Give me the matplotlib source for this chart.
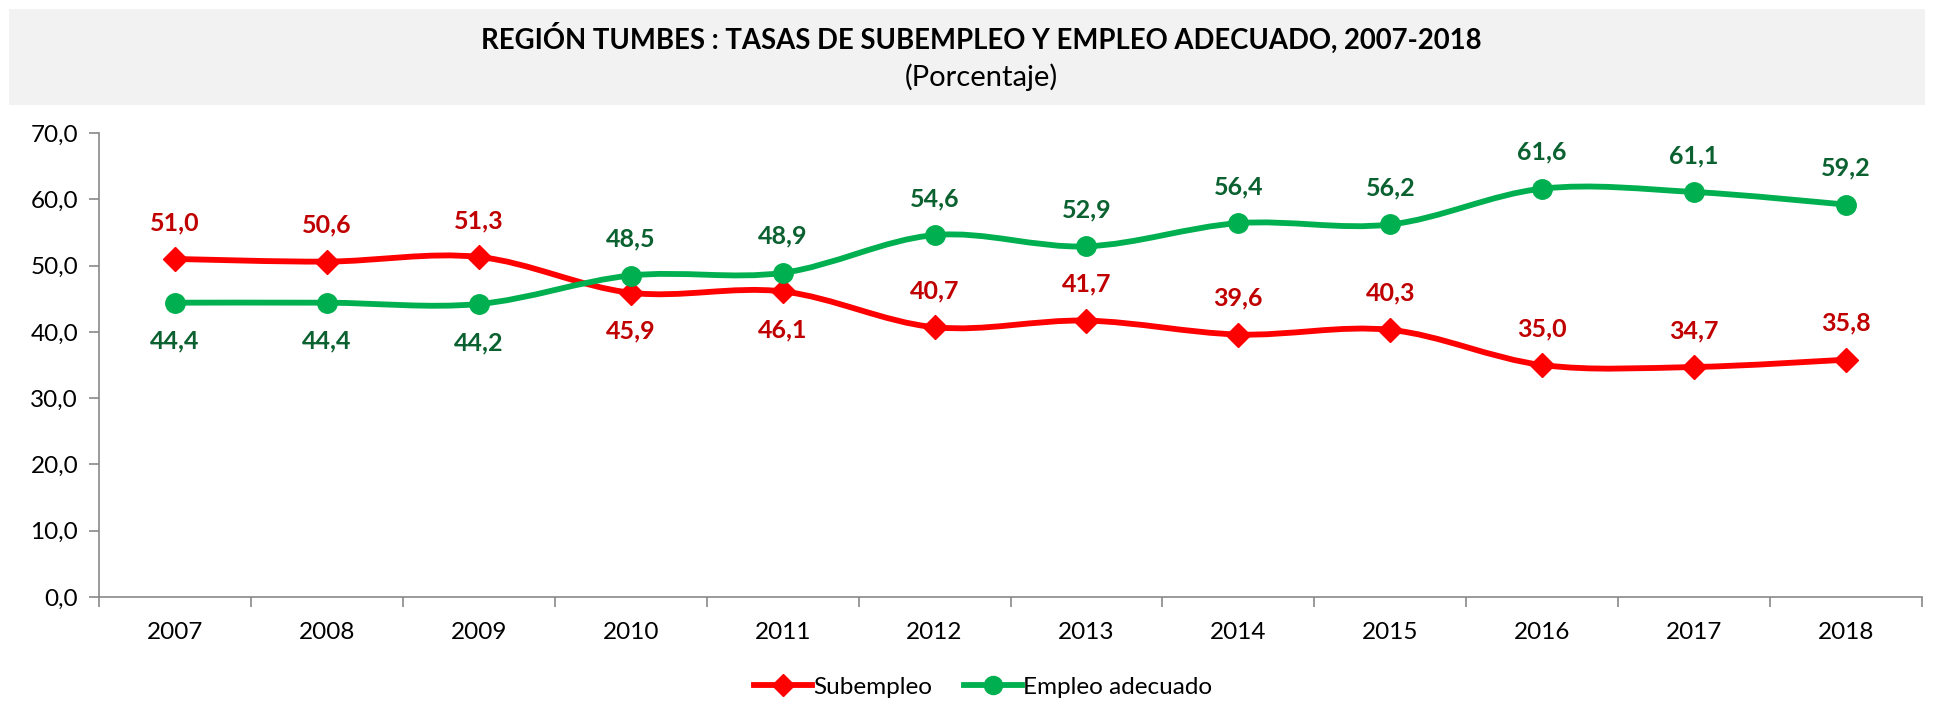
import numpy as np
import matplotlib
matplotlib.use("Agg")
import matplotlib.pyplot as plt
from matplotlib.path import Path
from matplotlib.patches import PathPatch, Rectangle
from matplotlib.lines import Line2D

plt.rcParams['font.family'] = ['Lato', 'DejaVu Sans']

years = ["2007", "2008", "2009", "2010", "2011", "2012", "2013", "2014", "2015", "2016", "2017", "2018"]
subempleo = [51.0, 50.6, 51.3, 45.9, 46.1, 40.7, 41.7, 39.6, 40.3, 35.0, 34.7, 35.8]
adecuado = [44.4, 44.4, 44.2, 48.5, 48.9, 54.6, 52.9, 56.4, 56.2, 61.6, 61.1, 59.2]
yticks = [0, 10, 20, 30, 40, 50, 60, 70]

title = "REGIÓN TUMBES : TASAS DE SUBEMPLEO Y EMPLEO ADECUADO, 2007-2018"
subtitle = "(Porcentaje)"

RED = "#FF0000"
RED_LBL = "#C00000"
GREEN = "#00B050"
GREEN_LBL = "#0B6130"

W, H = 1934, 701
fig = plt.figure(figsize=(W / 100, H / 100), dpi=100)

# title band
fig.patches.append(Rectangle((9 / W, 1 - 105 / H), (1925 - 9) / W, 96 / H,
                             transform=fig.transFigure, facecolor="#F2F2F2",
                             edgecolor="none", zorder=0))
fig.text(981 / W, 1 - 38 / H, title, ha="center", va="center", fontsize=19.8,
         fontweight="bold", color="black")
fig.text(981 / W, 1 - 77 / H, subtitle, ha="center", va="center", fontsize=21,
         color="black")

ax = fig.add_axes([99 / W, 1 - 597 / H, (1922 - 99) / W, (597 - 133) / H])
x = np.arange(len(years))


def smooth_path(xs, ys):
    pts = np.column_stack([xs, ys]).astype(float)
    n = len(pts)
    verts = [pts[0]]
    codes = [Path.MOVETO]
    for i in range(n - 1):
        p0 = pts[i - 1] if i > 0 else pts[i]
        p1 = pts[i]
        p2 = pts[i + 1]
        p3 = pts[i + 2] if i + 2 < n else pts[i + 1]
        c1 = p1 + (p2 - p0) / 6.0
        c2 = p2 - (p3 - p1) / 6.0
        verts += [c1, c2, p2]
        codes += [Path.CURVE4] * 3
    return Path(verts, codes)


for ys, col, mk, ms in [(subempleo, RED, "D", 12), (adecuado, GREEN, "o", 14)]:
    ax.add_patch(PathPatch(smooth_path(x, ys), facecolor="none", edgecolor=col,
                           lw=4.2, capstyle="round", joinstyle="round", zorder=3))
    ax.plot(x, ys, linestyle="none", marker=mk, markersize=ms, color=col, zorder=4)

# labels
for i, v in enumerate(subempleo):
    above = i not in (3, 4)
    off = 5.5 if above else -5.8
    ax.text(i, v + off, f"{v:.1f}".replace(".", ","), ha="center", va="center",
            fontsize=18, fontweight="bold", color=RED_LBL, zorder=5)
for i, v in enumerate(adecuado):
    above = i >= 3
    off = 5.5 if above else -5.8
    ax.text(i, v + off, f"{v:.1f}".replace(".", ","), ha="center", va="center",
            fontsize=18, fontweight="bold", color=GREEN_LBL, zorder=5)

ax.set_xlim(-0.5, len(years) - 0.5)
ax.set_ylim(0, 70)
ax.set_yticks(yticks)
ax.set_yticklabels([f"{t:.1f}".replace(".", ",") for t in yticks], fontsize=17.5)
ax.set_xticks(np.arange(-0.5, len(years), 1.0))
ax.set_xticklabels([])
ax.set_xticks(x, minor=True)
ax.set_xticklabels(years, minor=True, fontsize=17.5)
ax.tick_params(axis="x", which="minor", length=0, pad=18)
ax.tick_params(axis="x", which="major", length=7, color="#898989", width=1.2)
ax.tick_params(axis="y", length=7, color="#898989", width=1.2, pad=8)
for s in ["top", "right"]:
    ax.spines[s].set_visible(False)
for s in ["left", "bottom"]:
    ax.spines[s].set_color("#898989")
    ax.spines[s].set_linewidth(1.2)

handles = [Line2D([], [], color=RED, lw=4.2, marker="D", markersize=11),
           Line2D([], [], color=GREEN, lw=4.2, marker="o", markersize=13)]
fig.legend(handles, ["Subempleo", "Empleo adecuado"], loc="center",
           bbox_to_anchor=(983 / W, 1 - 687 / H), ncol=2, frameon=False,
           fontsize=17.5, handlelength=2.4, handletextpad=0.05, columnspacing=1.3)

fig.savefig("out.png", dpi=100)
